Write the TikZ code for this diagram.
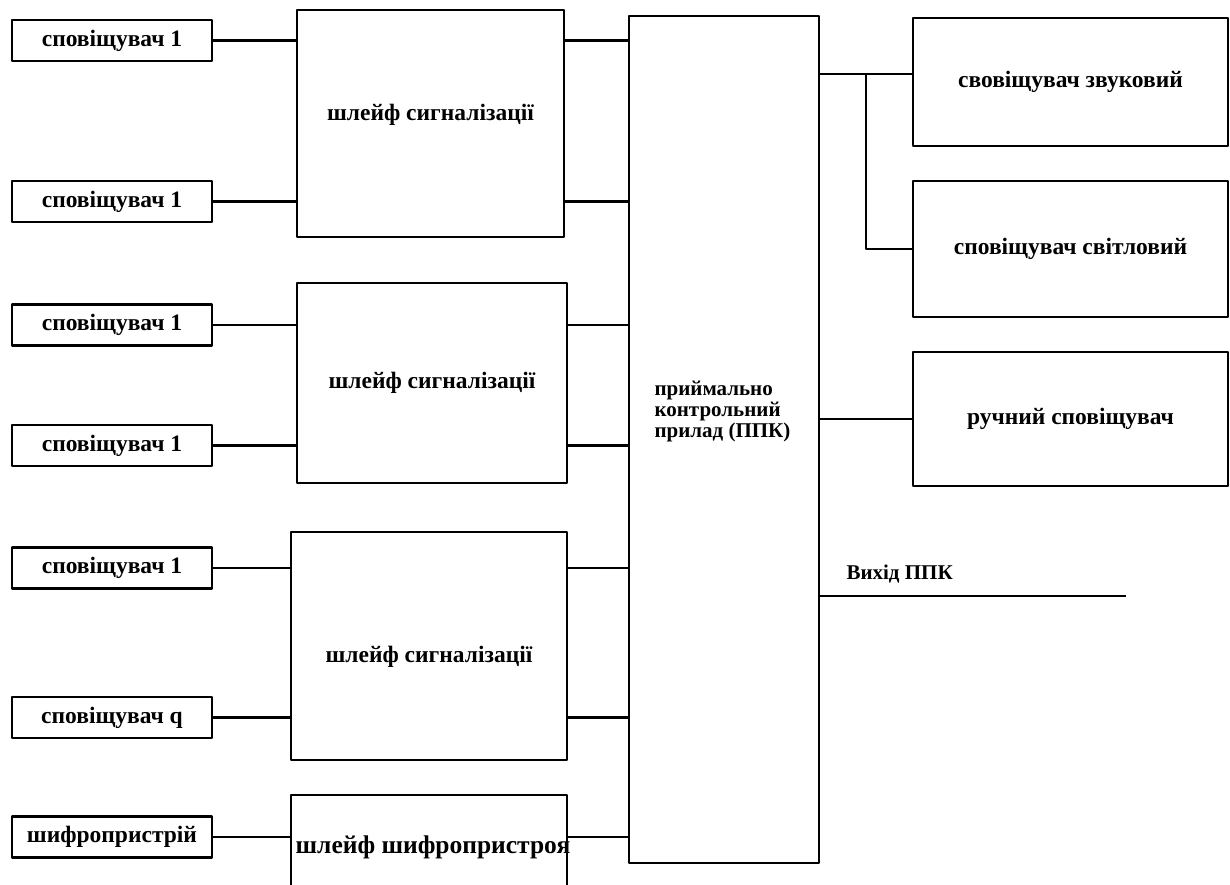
\documentclass[tikz,border=0pt]{standalone}
\usepackage{fontspec}
\setmainfont{Liberation Serif}
\usepackage{tikz}
\usetikzlibrary{calc}

\begin{document}
\begin{tikzpicture}[x=1pt,y=1pt,line join=round,
  blk/.style={draw,line width=2.1pt,inner sep=0pt,outer sep=0pt,
    font=\fontsize{23.5}{25}\selectfont\bfseries},
  sbox/.style={blk,minimum width=200,minimum height=41},
  wire/.style={line width=2.1pt}]
  \useasboundingbox (0,0) rectangle (1230,-885);
  % detectors on the left
  \node[sbox] (S1) at (112,-40.5) {сповіщувач 1};
  \node[sbox] (S2) at (112,-201.5) {сповіщувач 1};
  \node[sbox] (S3) at (112,-325) {сповіщувач 1};
  \node[sbox] (S4) at (112,-445.5) {сповіщувач 1};
  \node[sbox] (S5) at (112,-568) {сповіщувач 1};
  \node[sbox] (S6) at (112,-717.5) {сповіщувач q};
  \node[sbox] (S7) at (112,-837) {шифропристрій};
  % loops
  \node[blk,minimum width=267,minimum height=227] (L1) at (430.5,-123.5) {};
  \node[font=\fontsize{23.5}{25}\selectfont\bfseries] (L1T) at (L1.center) [yshift=9pt] {шлейф сигналізації};
  \node[blk,minimum width=270,minimum height=200] (L2) at (432,-383) {шлейф сигналізації};
  \node[blk,minimum width=276,minimum height=228] (L3) at (429,-646) {};
  \node[font=\fontsize{23.5}{25}\selectfont\bfseries] (L3T) at (L3.center) [yshift=-11pt] {шлейф сигналізації};
  \coordinate (L4a) at (291,-885);
  \coordinate (L4b) at (291,-795);
  \coordinate (L4c) at (567,-795);
  \coordinate (L4d) at (567,-885);
  \draw[wire] (L4a) -- (L4b) -- (L4c) -- (L4d);
  \node[font=\fontsize{25.5}{27}\selectfont\bfseries] (L4) at (433,-847) {шлейф шифропристроя};
  % control panel
  \node[blk,minimum width=190,minimum height=847] (PPK) at (724,-439.5) {};
  \node[anchor=west,align=left,font=\fontsize{21}{21}\selectfont\bfseries] (PPKT) at (651,-412)
    {приймально\\контрольний\\прилад (ППК)};
  % outputs on the right
  \node[blk,minimum width=315,minimum height=128] (R1) at (1070.5,-82) {свовіщувач звуковий};
  \node[blk,minimum width=315,minimum height=136] (R2) at (1070.5,-249) {сповіщувач світловий};
  \node[blk,minimum width=315,minimum height=134] (R3) at (1070.5,-419) {ручний сповіщувач};
  % connections
  \draw[wire] (S1) -- (S1 -| L1.west);
  \draw[wire] (S2) -- (S2 -| L1.west);
  \draw[wire] (S3) -- (S3 -| L2.west);
  \draw[wire] (S4) -- (S4 -| L2.west);
  \draw[wire] (S5) -- (S5 -| L3.west);
  \draw[wire] (S6) -- (S6 -| L3.west);
  \draw[wire] (S7) -- (S7 -| L4b);
  \draw[wire] (L1.east |- S1) -- (PPK.west |- S1);
  \draw[wire] (L1.east |- S2) -- (PPK.west |- S2);
  \draw[wire] (L2.east |- S3) -- (PPK.west |- S3);
  \draw[wire] (L2.east |- S4) -- (PPK.west |- S4);
  \draw[wire] (L3.east |- S5) -- (PPK.west |- S5);
  \draw[wire] (L3.east |- S6) -- (PPK.west |- S6);
  \draw[wire] (L4c |- S7) -- (PPK.west |- S7);
  \coordinate (TAP) at (866,-74);
  \draw[wire] (PPK.east |- TAP) -- (R1.west |- TAP);
  \draw[wire] (TAP) |- (R2);
  \draw[wire] (PPK.east |- R3) -- (R3);
  \coordinate (OUT) at (1126,-596);
  \draw[wire] (PPK.east |- OUT) -- (OUT);
  \node[anchor=west,font=\fontsize{21}{23}\selectfont\bfseries] (OUTT) at (843,-574) {Вихід ППК};
\end{tikzpicture}
\end{document}
